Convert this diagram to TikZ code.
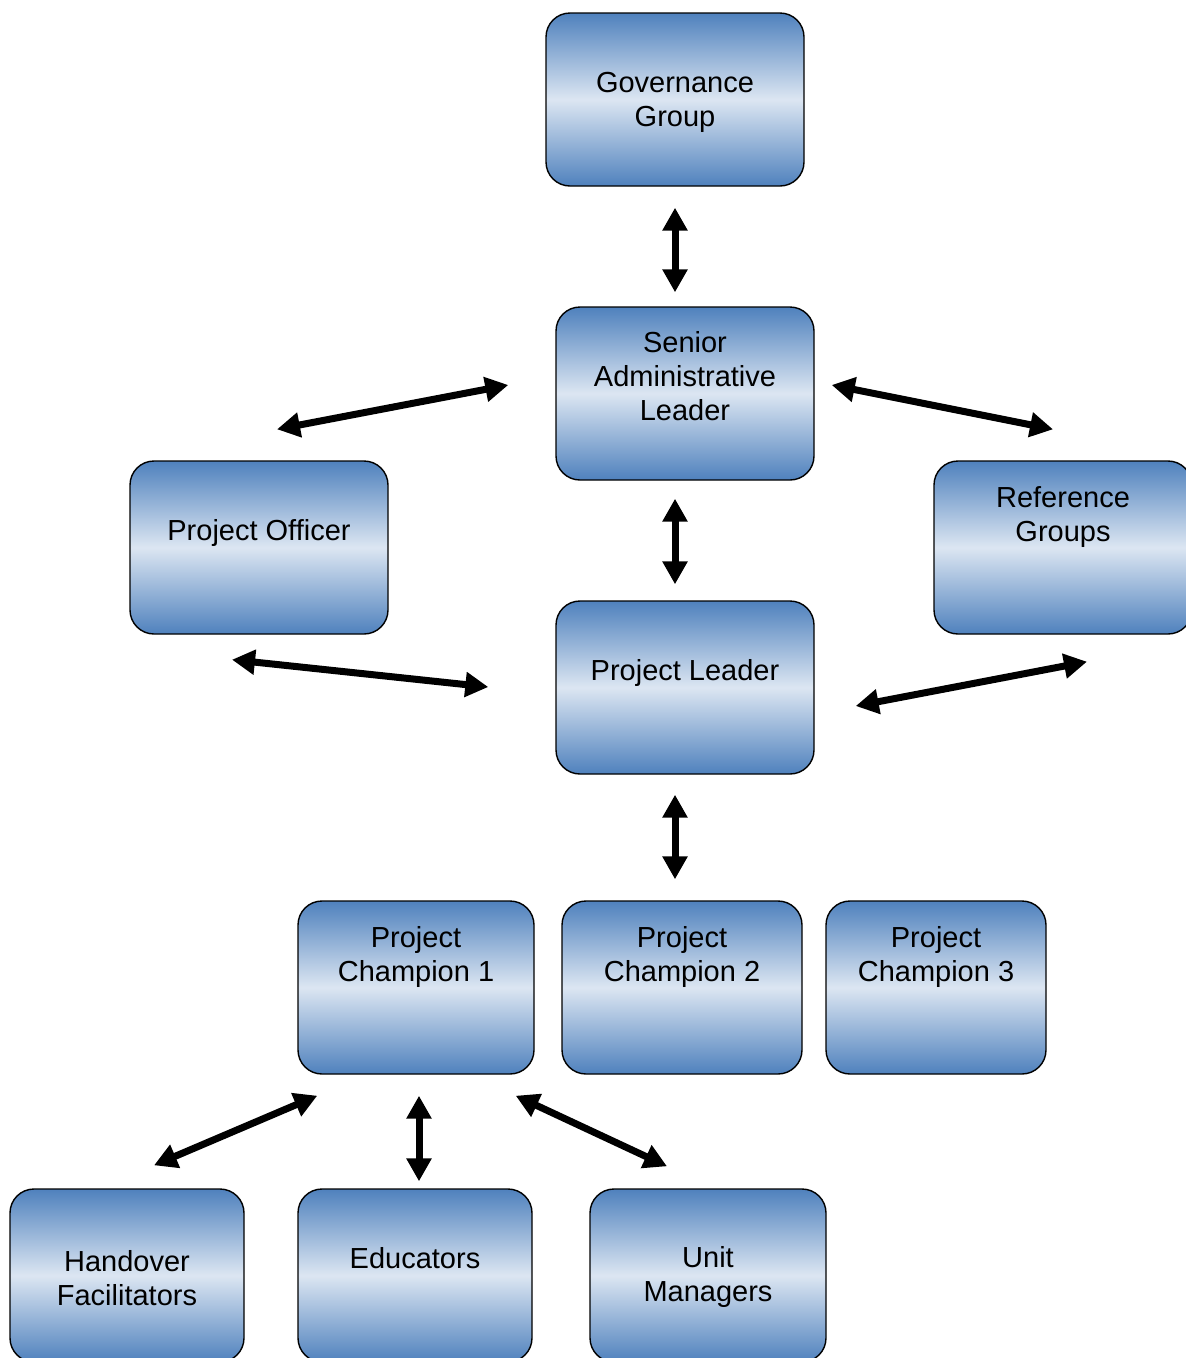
\documentclass[tikz,border=0pt]{standalone}
\usepackage{fontspec}
\setmainfont{Liberation Sans}
\usetikzlibrary{arrows.meta}
\definecolor{boxdark}{HTML}{4F81BD}
\definecolor{boxlight}{HTML}{DCE6F2}

\begin{document}
\begin{tikzpicture}[x=1pt,y=-1pt,
    unit/.style={draw=black,line width=1.4pt,rounded corners=24pt,
        top color=boxdark,bottom color=boxdark,middle color=boxlight,
        minimum height=173pt,inner sep=0pt},
    lbl/.style={align=center,font=\fontsize{29}{34}\selectfont},
    link/.style={line width=7pt,
        {Triangle[length=23pt,width=24pt]}-{Triangle[length=23pt,width=24pt]}}]
    \path[use as bounding box,clip] (0,0) rectangle (1186,1358);
    % boxes
    \node[unit,minimum width=258pt] (gov) at (675,99.5) {};
    \node[unit,minimum width=258pt] (sal) at (685,393.5) {};
    \node[unit,minimum width=258pt] (po) at (259,547.5) {};
    \node[unit,minimum width=258pt] (rg) at (1063,547.5) {};
    \node[unit,minimum width=258pt] (pl) at (685,687.5) {};
    \node[unit,minimum width=236pt] (pc1) at (416,987.5) {};
    \node[unit,minimum width=240pt] (pc2) at (682,987.5) {};
    \node[unit,minimum width=220pt] (pc3) at (936,987.5) {};
    \node[unit,minimum width=234pt] (hf) at (127,1275.5) {};
    \node[unit,minimum width=234pt] (edu) at (415,1275.5) {};
    \node[unit,minimum width=236pt] (um) at (708,1275.5) {};
    % labels
    \node[lbl] (govtxt) at ([yshift=-3pt]gov.center) {Governance\\Group};
    \node[lbl] (saltxt) at ([yshift=17pt]sal.center) {Senior\\Administrative\\Leader};
    \node[lbl] (potxt) at ([yshift=15pt]po.center) {Project Officer};
    \node[lbl] (rgtxt) at ([yshift=30pt]rg.center) {Reference\\Groups};
    \node[lbl] (pltxt) at ([yshift=15pt]pl.center) {Project Leader};
    \node[lbl] (pc1txt) at ([yshift=31pt]pc1.center) {Project\\Champion 1};
    \node[lbl] (pc2txt) at ([yshift=31pt]pc2.center) {Project\\Champion 2};
    \node[lbl] (pc3txt) at ([yshift=31pt]pc3.center) {Project\\Champion 3};
    \node[lbl] (hftxt) at ([yshift=-3pt]hf.center) {Handover\\Facilitators};
    \node[lbl] (edutxt) at ([yshift=17pt]edu.center) {Educators};
    \node[lbl] (umtxt) at ([yshift=-1.5pt]um.center) {Unit\\Managers};
    % connectors
    \draw[link] ([yshift=-21pt]gov.south) -- ([xshift=-10pt,yshift=14pt]sal.north);
    \draw[link] ([xshift=-10pt,yshift=-18pt]sal.south) -- ([xshift=-10pt,yshift=16pt]pl.north);
    \draw[link] ([xshift=-10pt,yshift=-20pt]pl.south) -- ([xshift=-7pt,yshift=21pt]pc2.north);
    \draw[link] ([xshift=3pt,yshift=-21pt]pc1.south) -- ([xshift=4pt,yshift=7pt]edu.north);
    \draw[link] ([xshift=-47pt,yshift=8.5pt]sal.west) -- ([xshift=18pt,yshift=31pt]po.north);
    \draw[link] ([xshift=17pt,yshift=8.5pt]sal.east) -- ([xshift=-10pt,yshift=31pt]rg.north);
    \draw[link] ([xshift=-27pt,yshift=-25pt]po.south) -- ([xshift=-67pt,yshift=0.5pt]pl.west);
    \draw[link] ([xshift=41pt,yshift=-18.5pt]pl.east) -- ([xshift=24pt,yshift=-27pt]rg.south);
    \draw[link] ([xshift=20pt,yshift=-21pt]pc1.south west) -- ([xshift=27pt,yshift=23pt]hf.north);
    \draw[link] ([xshift=-19pt,yshift=-21pt]pc1.south east) -- ([xshift=-41pt,yshift=22pt]um.north);
\end{tikzpicture}
\end{document}
